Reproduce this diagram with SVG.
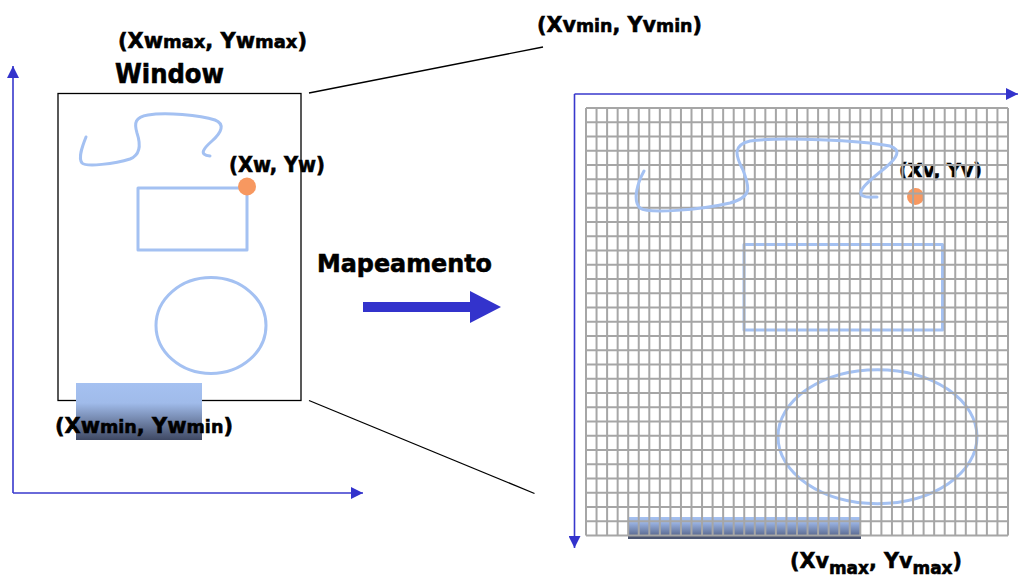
<svg xmlns="http://www.w3.org/2000/svg" width="1018" height="579" viewBox="0 0 1018 579">
<style>
text{font-family:"DejaVu Sans","Liberation Sans",sans-serif;font-weight:bold;fill:#000;stroke:#000;stroke-width:0.6}
.shape{fill:none;stroke:#a4c1f2;stroke-width:3;stroke-linecap:round;stroke-linejoin:round}
.axis{fill:none;stroke:#3838cc;stroke-width:1.6}
.conn{fill:none;stroke:#000;stroke-width:1.3}
.grid{fill:none;stroke:#a6a6a6;stroke-width:2}
</style>
<defs>
<linearGradient id="gL" x1="0" y1="0" x2="0" y2="1">
<stop offset="0" stop-color="#a5c1f1"/>
<stop offset="0.35" stop-color="#a0bbea"/>
<stop offset="1" stop-color="#3f4964"/>
</linearGradient>
<linearGradient id="gR" x1="0" y1="0" x2="0" y2="1">
<stop offset="0" stop-color="#a5c1f1"/>
<stop offset="0.25" stop-color="#9ab3e2"/>
<stop offset="0.8" stop-color="#5f6f96"/>
<stop offset="0.85" stop-color="#4a5470"/>
<stop offset="1" stop-color="#4a5470"/>
</linearGradient>
<marker id="ah" viewBox="0 0 12 12" refX="12" refY="6" markerWidth="12" markerHeight="12" markerUnits="userSpaceOnUse" orient="auto">
<path d="M0 0L12 6L0 12Z" fill="#3333cc"/>
</marker>
</defs>

<g id="world-axes">
<path class="axis" d="M13 493V66" marker-end="url(#ah)"/>
<path class="axis" d="M13 493H363" marker-end="url(#ah)"/>
</g>

<g id="window">
<rect x="58" y="93.5" width="243" height="307" fill="#fff" stroke="#000" stroke-width="1.3"/>
<path class="shape" d="M86 137C82 147 78 158 82 163C86 167 115 164 130 159C140 155 141 145 137 133C134 123 135 117 148 115C165 112 200 115 215 120C225 124 222 132 212 141C204 148 198 155 210 156"/>
<rect class="shape" x="138" y="188" width="109" height="62"/>
<ellipse class="shape" cx="211" cy="325.5" rx="55" ry="48"/>
<circle cx="247" cy="186.5" r="9" fill="#f79860"/>
<rect x="76" y="383" width="126" height="57" fill="url(#gL)"/>
<text x="118" y="48" font-size="21" textLength="189" lengthAdjust="spacingAndGlyphs">(Xw<tspan font-size="18">max</tspan>, Yw<tspan font-size="18">max</tspan>)</text>
<text x="115" y="83" font-size="26" textLength="109" lengthAdjust="spacingAndGlyphs">Window</text>
<text x="229" y="172" font-size="21" textLength="96" lengthAdjust="spacingAndGlyphs">(Xw, Yw)</text>
<text x="55" y="433" font-size="22" textLength="178" lengthAdjust="spacingAndGlyphs">(Xw<tspan font-size="18.5">min</tspan>, Yw<tspan font-size="18.5">min</tspan>)</text>
</g>

<g id="mapping">
<text x="317" y="272" font-size="24.5" textLength="175" lengthAdjust="spacingAndGlyphs">Mapeamento</text>
<path d="M363 302H470V291L501 307L470 323V312H363Z" fill="#3333cc"/>
</g>

<g id="viewport">
<path class="axis" d="M574.5 94H1018" marker-end="url(#ah)"/>
<path class="axis" d="M574.5 94V548" marker-end="url(#ah)"/>
<rect x="628" y="517" width="233" height="22" fill="url(#gR)"/>
<rect class="shape" x="744" y="244.5" width="198.5" height="85.5" stroke-linecap="butt" stroke-linejoin="miter"/>
<ellipse class="shape" cx="877.5" cy="436.7" rx="99.5" ry="67"/>
<circle cx="915.5" cy="196.5" r="8.5" fill="#f79860"/>
<text x="899" y="177" font-size="20" textLength="83" lengthAdjust="spacingAndGlyphs">(Xv, Yv)</text>
<path class="grid" d="M586 108V535.5M596.55 108V535.5M607.1 108V535.5M617.65 108V535.5M628.2 108V535.5M638.75 108V535.5M649.3 108V535.5M659.85 108V535.5M670.4 108V535.5M680.95 108V535.5M691.5 108V535.5M702.05 108V535.5M712.6 108V535.5M723.15 108V535.5M733.7 108V535.5M744.25 108V535.5M754.8 108V535.5M765.35 108V535.5M775.9 108V535.5M786.45 108V535.5M797 108V535.5M807.55 108V535.5M818.1 108V535.5M828.65 108V535.5M839.2 108V535.5M849.75 108V535.5M860.3 108V535.5M870.85 108V535.5M881.4 108V535.5M891.95 108V535.5M902.5 108V535.5M913.05 108V535.5M923.6 108V535.5M934.15 108V535.5M944.7 108V535.5M955.25 108V535.5M965.8 108V535.5M976.35 108V535.5M986.9 108V535.5M997.45 108V535.5M1008 108V535.5M586 108H1008M586 122.25H1008M586 136.5H1008M586 150.75H1008M586 165H1008M586 179.25H1008M586 193.5H1008M586 207.75H1008M586 222H1008M586 236.25H1008M586 250.5H1008M586 264.75H1008M586 279H1008M586 293.25H1008M586 307.5H1008M586 321.75H1008M586 336H1008M586 350.25H1008M586 364.5H1008M586 378.75H1008M586 393H1008M586 407.25H1008M586 421.5H1008M586 435.75H1008M586 450H1008M586 464.25H1008M586 478.5H1008M586 492.75H1008M586 507H1008M586 521.25H1008M586 535.5H1008"/>
<path class="shape" d="M644 171C638 182 632 200 640 208C648 214 700 210 730 203C752 197 750 188 743 170C735 155 733 145 750 141C780 137 860 140 890 146C902 150 897 158 885 168C870 180 855 192 863 196C867 198 873 197 877 197"/>
<text x="537" y="32" font-size="22" textLength="165" lengthAdjust="spacingAndGlyphs">(Xv<tspan font-size="18.5">min</tspan>, Yv<tspan font-size="18.5">min</tspan>)</text>
<text x="790" y="568" font-size="22" textLength="172" lengthAdjust="spacingAndGlyphs">(Xv<tspan font-size="18" dy="6">max</tspan><tspan dy="-6">, Yv</tspan><tspan font-size="18" dy="6">max</tspan><tspan dy="-6">)</tspan></text>
</g>

<g id="connectors">
<line class="conn" x1="309" y1="93" x2="543" y2="47"/>
<line class="conn" x1="309" y1="400.5" x2="534.5" y2="493.5"/>
</g>
</svg>
